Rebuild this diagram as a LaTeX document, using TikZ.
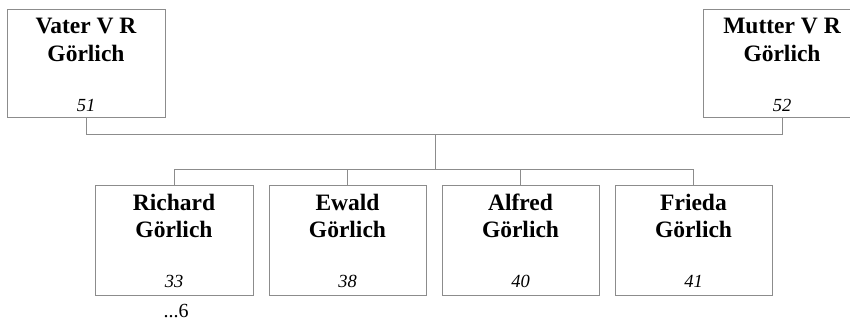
\documentclass[tikz,border=0pt]{standalone}
\usepackage{fontspec}
\setmainfont{Liberation Serif}
\begin{document}
\begin{tikzpicture}[x=1pt,y=-1pt,
  person/.style={draw=linegray, line width=1pt, rectangle, inner sep=0pt, minimum height=108pt},
  nametext/.style={anchor=north, inner sep=0pt, align=center, font=\fontsize{23.5}{27.5}\selectfont\bfseries},
  numtext/.style={anchor=base, inner sep=0pt, font=\fontsize{18.5}{22}\selectfont\itshape},
  conn/.style={draw=linegray, line width=1pt}]
\definecolor{linegray}{RGB}{140,140,140}
\useasboundingbox (0,0) rectangle (850,320);
\clip (0,0) rectangle (850,320);
% parents
\node[person, minimum width=158pt] (vater) at (86,64) {};
\node[person, minimum width=158pt] (mutter) at (782,64) {};
\node[nametext] (vatern) at ([yshift=-8.5pt]vater.north) {Vater V R\\Görlich};
\node[nametext] (muttern) at ([yshift=-8.5pt]mutter.north) {Mutter V R\\Görlich};
\node[numtext] (vaterz) at ([yshift=6.5pt]vater.south) {51};
\node[numtext] (mutterz) at ([yshift=6.5pt]mutter.south) {52};
% children
\node[person, minimum width=158pt, minimum height=109pt] (richard) at (174,240.5) {};
\node[person, minimum width=157pt, minimum height=109pt] (ewald) at (347.5,240.5) {};
\node[person, minimum width=157pt, minimum height=109pt] (alfred) at (520.5,240.5) {};
\node[person, minimum width=157pt, minimum height=109pt] (frieda) at (693.5,240.5) {};
\node[nametext] (richardn) at ([yshift=-8pt]richard.north) {Richard\\Görlich};
\node[nametext] (ewaldn) at ([yshift=-8pt]ewald.north) {Ewald\\Görlich};
\node[nametext] (alfredn) at ([yshift=-8pt]alfred.north) {Alfred\\Görlich};
\node[nametext] (frieden) at ([yshift=-8pt]frieda.north) {Frieda\\Görlich};
\node[numtext] (richardz) at ([yshift=8pt]richard.south) {33};
\node[numtext] (ewaldz) at ([yshift=8pt]ewald.south) {38};
\node[numtext] (alfredz) at ([yshift=8pt]alfred.south) {40};
\node[numtext] (friedaz) at ([yshift=8pt]frieda.south) {41};
\node[anchor=base, inner sep=0pt, font=\fontsize{20}{24}\selectfont] (more) at ([xshift=2pt,yshift=-22pt]richard.south) {...6};
% connectors
\coordinate (pl) at (86,135);
\coordinate (pr) at (782,135);
\coordinate (pm) at (435.5,135);
\coordinate (cm) at (435.5,170);
\draw[conn] (vater.south) -- (pl) -- (pr) -- (mutter.south);
\draw[conn] (pm) -- (cm);
\draw[conn] (richard.north) |- (cm);
\draw[conn] (frieda.north) |- (cm);
\draw[conn] (ewald.north) -- (ewald.north |- cm);
\draw[conn] (alfred.north) -- (alfred.north |- cm);
\end{tikzpicture}
\end{document}
